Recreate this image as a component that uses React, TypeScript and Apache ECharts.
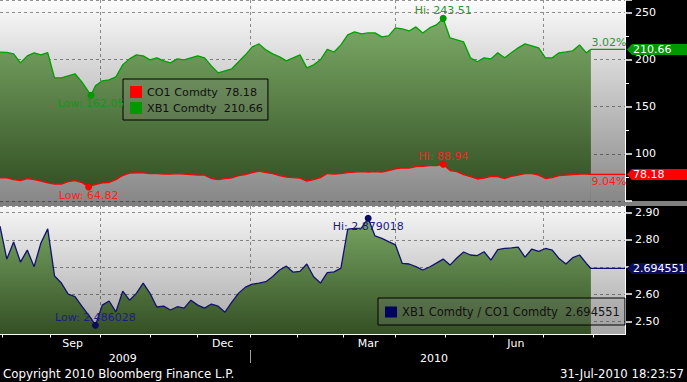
import React, { useEffect, useRef } from 'react';
import * as echarts from 'echarts';

const FONT = 'DejaVu Sans';
const START = { y: 2009, m: 6, d: 31 };
const CATEGORY_COUNT = 276;

// weekday index (0 = 31-Jul-2009) of each sampled point
const sampleDays = [0, 3, 6, 9, 12, 15, 18, 21, 24, 27, 30, 33, 36, 39, 40, 42, 45, 48, 51, 54, 57, 60, 63, 66, 69, 72, 75, 78, 81, 84, 87, 90, 93, 96, 99, 102, 105, 108, 111, 114, 117, 120, 123, 126, 129, 132, 135, 138, 141, 144, 147, 150, 153, 156, 159, 162, 165, 168, 171, 174, 177, 180, 183, 186, 189, 192, 195, 198, 201, 204, 207, 210, 213, 216, 219, 222, 225, 228, 231, 234, 237, 240, 243, 246, 249, 252, 255, 258, 260];

const xb1 = [207.7, 207.5, 205.9, 196.4, 203.8, 207.0, 204.9, 207.3, 180.5, 180.5, 182.7, 184.8, 176.3, 165.7, 162.05, 172.0, 177.4, 178.4, 181.6, 194.3, 200.6, 204.9, 203.8, 199.6, 201.7, 198.5, 196.4, 200.6, 199.6, 201.7, 203.8, 201.7, 193.2, 185.8, 188.0, 190.1, 197.5, 204.9, 213.3, 216.5, 210.1, 205.9, 202.7, 198.5, 201.7, 204.9, 191.1, 194.3, 199.6, 210.7, 207.9, 215.4, 226.0, 229.2, 227.1, 228.1, 228.1, 223.9, 225.0, 233.4, 232.3, 230.2, 234.5, 228.1, 233.4, 236.6, 243.51, 222.8, 220.7, 218.6, 201.7, 197.5, 201.7, 200.6, 207.0, 201.7, 207.0, 212.3, 216.5, 214.4, 212.3, 201.7, 201.7, 207.0, 208.0, 209.1, 215.4, 207.0, 210.66];

const co1 = [74.5, 74.5, 72.7, 71.7, 73.8, 72.7, 71.1, 69.2, 68.0, 68.0, 70.6, 71.7, 69.6, 64.82, 66.0, 67.4, 69.2, 69.6, 72.7, 77.0, 79.6, 79.8, 79.8, 79.1, 79.1, 78.5, 78.5, 79.1, 78.5, 78.0, 77.5, 77.5, 73.8, 72.7, 73.8, 74.5, 77.0, 78.0, 80.1, 81.7, 80.1, 79.1, 77.0, 75.4, 74.8, 74.3, 71.1, 72.7, 74.8, 79.1, 78.5, 79.1, 80.1, 80.6, 81.2, 80.6, 81.2, 80.6, 82.2, 84.0, 85.1, 84.9, 86.5, 86.8, 87.5, 87.5, 88.94, 82.2, 81.2, 78.0, 75.9, 73.3, 74.3, 76.2, 75.9, 73.8, 76.2, 77.5, 79.1, 79.1, 77.5, 73.8, 74.8, 77.0, 77.5, 78.0, 78.5, 78.5, 78.18];

const ratio = [2.850, 2.729, 2.792, 2.718, 2.762, 2.701, 2.788, 2.840, 2.667, 2.641, 2.600, 2.591, 2.556, 2.523, 2.512, 2.486028, 2.560, 2.575, 2.535, 2.611, 2.578, 2.603, 2.641, 2.603, 2.553, 2.556, 2.542, 2.554, 2.549, 2.578, 2.560, 2.549, 2.564, 2.556, 2.534, 2.571, 2.604, 2.626, 2.637, 2.641, 2.646, 2.665, 2.689, 2.703, 2.681, 2.684, 2.711, 2.664, 2.641, 2.679, 2.682, 2.696, 2.839, 2.842, 2.843, 2.879018, 2.814, 2.805, 2.793, 2.781, 2.713, 2.711, 2.701, 2.689, 2.700, 2.714, 2.729, 2.707, 2.733, 2.755, 2.744, 2.742, 2.756, 2.725, 2.764, 2.768, 2.770, 2.773, 2.736, 2.766, 2.757, 2.768, 2.762, 2.731, 2.711, 2.734, 2.744, 2.713, 2.694551];

const seriesNames = { co1: 'CO1 Comdty', xb1: 'XB1 Comdty', ratio: 'XB1 Comdty / CO1 Comdty' };
const pctChange = { xb1: '3.02%', co1: '9.04%' };
const monthLabels = [
  { ym: '2009-09', text: 'Sep' },
  { ym: '2009-12', text: 'Dec' },
  { ym: '2010-03', text: 'Mar' },
  { ym: '2010-06', text: 'Jun' },
];
const yearLabels = [
  { date: '2009-10-15', text: '2009' },
  { date: '2010-04-26', text: '2010' },
];
const copyrightText = 'Copyright 2010 Bloomberg Finance L.P.';
const stampText = '31-Jul-2010 18:23:57';

function buildDates(): string[] {
  const out: string[] = [];
  const d = new Date(Date.UTC(START.y, START.m, START.d));
  while (out.length < CATEGORY_COUNT) {
    const wd = d.getUTCDay();
    if (wd !== 0 && wd !== 6) out.push(d.toISOString().slice(0, 10));
    d.setUTCDate(d.getUTCDate() + 1);
  }
  return out;
}

const TAG_PATH = 'path://M0,5.5L5,0L60,0L60,11L5,11Z';

function argExt(arr: number[], max: boolean) {
  let b = 0;
  arr.forEach((v, i) => {
    if (max ? v > arr[b] : v < arr[b]) b = i;
  });
  return b;
}

function buildOption() {
  const dates = buildDates();
  const monthStart = new Set<number>();
  const quarterStart = new Set<number>();
  let yearStart = -1;
  for (let i = 1; i < dates.length; i++) {
    if (dates[i].slice(5, 7) !== dates[i - 1].slice(5, 7)) {
      monthStart.add(i);
      const m = parseInt(dates[i].slice(5, 7), 10);
      if (m % 3 === 1) quarterStart.add(i);
    }
    if (yearStart < 0 && dates[i].slice(0, 4) !== dates[0].slice(0, 4)) yearStart = i;
  }
  const monthLabelAt = new Map<number, string>();
  monthLabels.forEach((ml) => {
    const idx = dates.map((d, i) => (d.startsWith(ml.ym) ? i : -1)).filter((i) => i >= 0);
    monthLabelAt.set(Math.floor((idx[0] + idx[idx.length - 1]) / 2), ml.text);
  });
  const yearLabelAt = new Map<number, string>();
  yearLabels.forEach((yl) => yearLabelAt.set(dates.indexOf(yl.date), yl.text));

  const pts = (arr: number[]) => sampleDays.map((d, i) => [d, arr[i]]);
  const lastDay = sampleDays[sampleDays.length - 1];
  const endDay = CATEGORY_COUNT - 1;
  const last = (arr: number[]) => arr[arr.length - 1];

  const gridLine = { show: true, lineStyle: { color: 'rgba(0,0,0,0.42)', type: [3, 3] as any, width: 1 } };
  const lbl = { fontFamily: FONT, fontSize: 11 };

  const dot = (day: number, value: number, text: string, pos: string, color: string, dotColor: string, distance = 0) => ({
    coord: [day, value],
    symbol: 'circle',
    symbolSize: 7,
    itemStyle: { color: dotColor, borderWidth: 0 },
    label: { show: true, position: pos, distance, formatter: text, color, ...lbl },
  });
  const tag = (value: number, text: string, bg: string) => ({
    coord: [endDay, value],
    symbol: TAG_PATH,
    symbolSize: [60, 11],
    symbolKeepAspect: false,
    symbolOffset: [32, 0],
    itemStyle: { color: bg, borderWidth: 0 },
    label: { show: true, position: 'insideLeft', distance: 6, formatter: text, color: '#ffffff', ...lbl },
  });
  const note = (value: number, text: string, pos: string, color: string) => ({
    coord: [endDay - 7, value],
    symbol: 'circle',
    symbolSize: 1,
    itemStyle: { color: 'rgba(0,0,0,0)', borderWidth: 0 },
    label: { show: true, position: pos, distance: 1, formatter: text, color, ...lbl },
  });

  const xbHi = argExt(xb1, true), xbLo = argExt(xb1, false);
  const coHi = argExt(co1, true), coLo = argExt(co1, false);
  const raHi = argExt(ratio, true), raLo = argExt(ratio, false);
  const ratioLast = last(ratio);

  const bgTop = new echarts.graphic.LinearGradient(0, 0, 0, 1, [
    { offset: 0, color: '#fcfcfc' },
    { offset: 1, color: '#878787' },
  ]);
  const bgTopGlobal = new echarts.graphic.LinearGradient(0, 0, 0, 201, [
    { offset: 0, color: '#fcfcfc' },
    { offset: 1, color: '#878787' },
  ], true);
  const bgBottom = new echarts.graphic.LinearGradient(0, 0, 0, 1, [
    { offset: 0, color: '#f7f7f7' },
    { offset: 1, color: '#a5a5a5' },
  ]);
  const greenTop = new echarts.graphic.LinearGradient(0, 0, 0, 1, [
    { offset: 0, color: '#7dab68' },
    { offset: 1, color: '#2f4b20' },
  ]);
  const greenBottom = new echarts.graphic.LinearGradient(0, 0, 0, 1, [
    { offset: 0, color: '#78a663' },
    { offset: 1, color: '#344f24' },
  ]);

  const catAxisBase = { type: 'category', data: dates, boundaryGap: false };

  return {
    animation: false,
    backgroundColor: '#000000',
    grid: [
      { left: 0, top: 0, width: 625, height: 201, show: true, backgroundColor: bgTop, borderWidth: 0 },
      { left: 0, top: 206, width: 625, height: 128.5, show: true, backgroundColor: bgBottom, borderWidth: 0 },
    ],
    xAxis: [
      {
        ...catAxisBase, gridIndex: 0, z: 3,
        axisLine: { show: false }, axisTick: { show: false }, axisLabel: { show: false },
        splitLine: { ...gridLine, interval: (i: number) => quarterStart.has(i) },
      },
      {
        ...catAxisBase, gridIndex: 1, z: 3,
        axisLine: { show: true, lineStyle: { color: '#ffffff', width: 1 } },
        axisTick: { show: true, interval: (i: number) => monthStart.has(i), length: 3, lineStyle: { color: '#ffffff' } },
        axisLabel: {
          show: true, interval: (i: number) => monthLabelAt.has(i),
          formatter: (_v: string, i: number) => monthLabelAt.get(i) || '',
          color: '#ffffff', margin: 3, ...lbl,
        },
        splitLine: { ...gridLine, interval: (i: number) => quarterStart.has(i) },
      },
      {
        ...catAxisBase, gridIndex: 1, position: 'bottom', offset: 15.5, z: 3,
        axisLine: { show: false },
        axisTick: { show: true, interval: (i: number) => i === yearStart, length: 13, lineStyle: { color: '#a0a0a0' } },
        axisLabel: {
          show: true, interval: (i: number) => yearLabelAt.has(i),
          formatter: (_v: string, i: number) => yearLabelAt.get(i) || '',
          color: '#ffffff', margin: 2.5, ...lbl,
        },
        splitLine: { show: false },
      },
    ],
    yAxis: [
      {
        type: 'value', gridIndex: 0, position: 'right', min: 50, max: 263, splitNumber: 5, z: 3,
        axisLine: { show: true, lineStyle: { color: '#ffffff' } },
        axisTick: { show: true, length: 7, lineStyle: { color: '#ffffff', width: 1.5 } },
        minorTick: { show: true, splitNumber: 2, length: 4, lineStyle: { color: '#ffffff' } },
        axisLabel: { color: '#ffffff', margin: 10, showMinLabel: false, showMaxLabel: false, ...lbl },
        splitLine: gridLine,
      },
      {
        type: 'value', gridIndex: 1, position: 'right', min: 2.452, max: 2.924, splitNumber: 5, z: 3,
        axisLine: { show: true, lineStyle: { color: '#ffffff' } },
        axisTick: { show: true, length: 7, lineStyle: { color: '#ffffff', width: 1.5 } },
        axisLabel: {
          color: '#ffffff', margin: 10, showMinLabel: false, showMaxLabel: false, ...lbl,
          // the label hidden under the last-value tag is left out
          formatter: (v: number) => (Math.abs(v - ratioLast) < 0.012 ? '' : v.toFixed(2)),
        },
        splitLine: gridLine,
      },
    ],
    legend: [
      {
        data: [seriesNames.co1, seriesNames.xb1],
        left: 123, top: 79, orient: 'vertical', selectedMode: false,
        backgroundColor: 'rgba(140,140,140,0.22)', borderColor: '#000000', borderWidth: 1,
        padding: [7, 5, 6, 7], itemGap: 4, itemWidth: 12, itemHeight: 12, icon: 'rect',
        itemStyle: { borderWidth: 0 },
        textStyle: { color: '#111111', fontFamily: FONT, fontSize: 11.2 },
        formatter: (name: string) =>
          name === seriesNames.co1 ? `${name}  ${last(co1).toFixed(2)}` : `${name}  ${last(xb1).toFixed(2)}`,
      },
      {
        data: [seriesNames.ratio],
        left: 378, top: 298, orient: 'vertical', selectedMode: false,
        backgroundColor: 'rgba(140,140,140,0.22)', borderColor: '#000000', borderWidth: 1,
        padding: [8, 5, 7, 7], itemWidth: 12, itemHeight: 11, icon: 'rect',
        itemStyle: { borderWidth: 0 },
        textStyle: { color: '#111111', fontFamily: FONT, fontSize: 11.5 },
        formatter: (name: string) => `${name}  ${ratioLast.toFixed(6)}`,
      },
    ],
    series: [
      {
        name: seriesNames.xb1, type: 'line', xAxisIndex: 0, yAxisIndex: 0,
        data: pts(xb1), symbol: 'none', silent: true,
        itemStyle: { color: '#009900' },
        lineStyle: { color: '#00a000', width: 1.3 },
        areaStyle: { color: greenTop, opacity: 1 },
        markPoint: {
          silent: true,
          data: [
            dot(sampleDays[xbHi], xb1[xbHi], `Hi: ${xb1[xbHi].toFixed(2)}`, 'top', '#2f962f', '#009900', -1),
            dot(sampleDays[xbLo], xb1[xbLo], `Low: ${xb1[xbLo].toFixed(2)}`, 'bottom', '#1c931c', '#009900', -1),
          ],
        },
      },
      {
        name: seriesNames.co1, type: 'line', xAxisIndex: 0, yAxisIndex: 0,
        data: pts(co1), symbol: 'none', silent: true,
        itemStyle: { color: '#ff0000' },
        lineStyle: { color: '#ff0000', width: 1.3 },
        areaStyle: { color: bgTopGlobal, opacity: 1 },
        markPoint: {
          silent: true,
          data: [
            dot(sampleDays[coHi], co1[coHi], `Hi: ${co1[coHi].toFixed(2)}`, 'top', '#ff2020', '#ff0000', -1),
            dot(sampleDays[coLo], co1[coLo], `Low: ${co1[coLo].toFixed(2)}`, 'bottom', '#ff2020', '#ff0000', -1),
          ],
        },
      },
      {
        name: 'xb1-last', type: 'line', xAxisIndex: 0, yAxisIndex: 0,
        data: [[lastDay, last(xb1)], [endDay, last(xb1)]], symbol: 'none', silent: true,
        lineStyle: { color: '#00a000', width: 1.3 },
        markPoint: {
          silent: true,
          data: [tag(last(xb1), last(xb1).toFixed(2), '#009900'), note(last(xb1), pctChange.xb1, 'top', '#2f962f')],
        },
      },
      {
        name: 'co1-last', type: 'line', xAxisIndex: 0, yAxisIndex: 0,
        data: [[lastDay, last(co1)], [endDay, last(co1)]], symbol: 'none', silent: true,
        lineStyle: { color: '#ff0000', width: 1.3 },
        markPoint: {
          silent: true,
          data: [tag(last(co1), last(co1).toFixed(2), '#ff0000'), note(last(co1), pctChange.co1, 'bottom', '#ff2020')],
        },
      },
      {
        name: seriesNames.ratio, type: 'line', xAxisIndex: 1, yAxisIndex: 1,
        data: pts(ratio), symbol: 'none', silent: true,
        itemStyle: { color: '#00005e' },
        lineStyle: { color: '#12126e', width: 1.3 },
        areaStyle: { color: greenBottom, opacity: 1 },
        markPoint: {
          silent: true,
          data: [
            dot(sampleDays[raHi], ratio[raHi], `Hi: ${ratio[raHi].toFixed(6)}`, 'bottom', '#1c1c80', '#0c0c5c', -1),
            dot(sampleDays[raLo], ratio[raLo], `Low: ${ratio[raLo].toFixed(6)}`, 'top', '#1c1c80', '#0c0c5c', -1),
          ],
        },
      },
      {
        name: 'ratio-last', type: 'line', xAxisIndex: 1, yAxisIndex: 1,
        data: [[lastDay, ratioLast], [endDay, ratioLast]], symbol: 'none', silent: true,
        lineStyle: { color: '#12126e', width: 1.3 },
        markPoint: {
          silent: true,
          data: [tag(ratioLast, ratioLast.toFixed(6), '#0c0c5c')],
        },
      },
    ],
    graphic: [
      { type: 'rect', silent: true, z: 1, shape: { x: 0, y: 201, width: 687, height: 5 }, style: { fill: '#7f7f7f' } },
      {
        type: 'text', silent: true, x: 3, y: 374,
        style: { text: copyrightText, fill: '#ffffff', font: `11.8px "${FONT}"`, textVerticalAlign: 'middle' },
      },
      {
        type: 'text', silent: true, x: 684, y: 374,
        style: { text: stampText, fill: '#ffffff', font: `11.7px "${FONT}"`, textAlign: 'right', textVerticalAlign: 'middle' },
      },
    ],
  };
}

export default function App() {
  const ref = useRef<HTMLDivElement>(null);
  useEffect(() => {
    if (!ref.current) return;
    const chart = echarts.init(ref.current, null, { renderer: 'svg' });
    chart.setOption(buildOption() as any);
    return () => chart.dispose();
  }, []);
  return (
    <div
      ref={ref}
      style={{ position: 'fixed', left: 0, top: 0, width: 687, height: 382, background: '#000' }}
    />
  );
}
